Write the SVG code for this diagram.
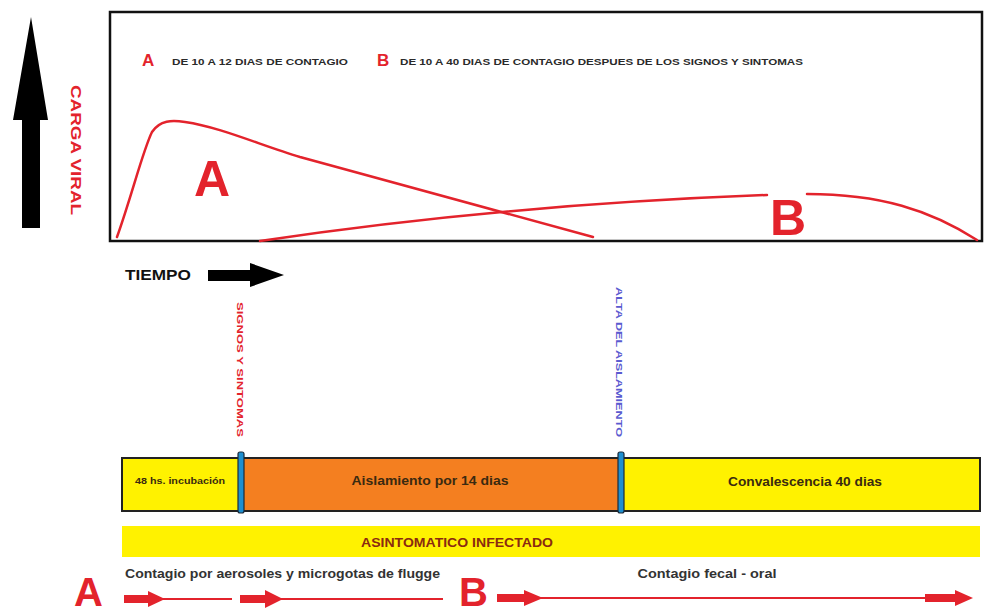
<svg xmlns="http://www.w3.org/2000/svg" width="984" height="615" viewBox="0 0 984 615">
<style>
.hdr{font-family:"Liberation Sans",Arial,sans-serif;font-weight:bold;font-size:9.5px;fill:#2a2a2a}
.red{fill:#e3232c}
.big{font-family:"Liberation Sans",Arial,sans-serif;font-weight:bold;fill:#e3232c}
.lbl{font-family:"Liberation Sans",Arial,sans-serif;font-weight:bold;fill:#3a2a10;text-anchor:middle}
.curve{fill:none;stroke:#e3232c;stroke-width:2.5;stroke-linecap:round}
.rline{stroke:#e3232c;stroke-width:2}
.divider{fill:#1e8fd0;stroke:#1a2a3a;stroke-width:1.2}
</style>
<rect width="984" height="615" fill="#ffffff"/>

<g id="axis-y">
<polygon points="31,17 48,120 40,120 40,228 22,228 22,120 13,120" fill="#000"/>
<text transform="translate(71,85) rotate(90)" style="font-family:'Liberation Sans',Arial,sans-serif;font-size:15px;font-weight:bold" class="red" textLength="130" lengthAdjust="spacingAndGlyphs">CARGA VIRAL</text>
</g>

<g id="chart">
<rect x="110" y="12" width="872" height="229" fill="#fff" stroke="#111" stroke-width="2.5"/>
<text x="142" y="66" style="font-family:'Liberation Sans',Arial,sans-serif;font-size:17px;font-weight:bold" class="red">A</text>
<text x="172" y="65" class="hdr" textLength="176" lengthAdjust="spacingAndGlyphs">DE 10 A 12 DIAS DE CONTAGIO</text>
<text x="377" y="66" style="font-family:'Liberation Sans',Arial,sans-serif;font-size:17px;font-weight:bold" class="red">B</text>
<text x="400" y="65" class="hdr" textLength="403" lengthAdjust="spacingAndGlyphs">DE 10 A 40 DIAS DE CONTAGIO DESPUES DE LOS SIGNOS Y SINTOMAS</text>
<path class="curve" d="M117,237 C132,195 143,150 152,132 C160,120 172,120 185,122 C220,127 260,145 300,157 L593,237"/>
<path class="curve" d="M260,241 Q500,205 767,195"/>
<path class="curve" d="M807,194 C880,194 930,210 977,240"/>
<text x="194" y="196" class="big" font-size="50">A</text>
<text x="770" y="235" class="big" font-size="50">B</text>
</g>

<g id="tiempo">
<text x="125" y="280" style="font-family:'Liberation Sans',Arial,sans-serif;font-weight:bold;font-size:14px" fill="#111" textLength="66" lengthAdjust="spacingAndGlyphs">TIEMPO</text>
<polygon points="208,270 250,270 250,263 284,275 250,287 250,281 208,281" fill="#000"/>
</g>

<g id="signos">
<text transform="translate(237,302) rotate(90)" style="font-family:'Liberation Sans',Arial,sans-serif;font-weight:bold;font-size:9px;fill:#e3232c" textLength="135" lengthAdjust="spacingAndGlyphs">SIGNOS Y SINTOMAS</text>
</g>
<g id="alta">
<text transform="translate(616,287) rotate(90)" style="font-family:'Liberation Sans',Arial,sans-serif;font-weight:bold;font-size:9px;fill:#5a5ad0" textLength="150" lengthAdjust="spacingAndGlyphs">ALTA DEL AISLAMIENTO</text>
</g>

<g id="timeline">
<rect x="122" y="458" width="858" height="53" fill="#fff200" stroke="#222" stroke-width="2"/>
<rect x="241" y="459" width="379" height="51" fill="#f47f20"/>
<rect x="238" y="452" width="6" height="61" rx="2" class="divider"/>
<rect x="618" y="452" width="6" height="61" rx="2" class="divider"/>
<text x="180" y="484" class="lbl" font-size="8.5" textLength="90" lengthAdjust="spacingAndGlyphs">48 hs. incubación</text>
<text x="430" y="485" class="lbl" font-size="12.5" textLength="157" lengthAdjust="spacingAndGlyphs">Aislamiento por 14 dias</text>
<text x="805" y="486" class="lbl" font-size="12.5" textLength="154" lengthAdjust="spacingAndGlyphs">Convalescencia 40 dias</text>
</g>

<g id="asintomatico">
<rect x="122" y="526" width="858" height="31" fill="#fff200"/>
<text x="457" y="547" class="lbl" font-size="12" style="fill:#8b2a10" textLength="192" lengthAdjust="spacingAndGlyphs">ASINTOMATICO INFECTADO</text>
</g>

<g id="contagio">
<text x="125" y="578" style="font-family:'Liberation Sans',Arial,sans-serif;font-weight:bold;font-size:12.5px;fill:#333" textLength="315" lengthAdjust="spacingAndGlyphs">Contagio por aerosoles y microgotas de flugge</text>
<text x="707" y="578" class="lbl" font-size="12.5" style="fill:#333" textLength="139" lengthAdjust="spacingAndGlyphs">Contagio fecal - oral</text>
<text x="74" y="606" class="big" font-size="40">A</text>
<text x="459" y="606" class="big" font-size="40">B</text>
</g>

<g id="connectors">
<line x1="150" y1="599" x2="232" y2="599" class="rline"/>
<polygon points="124,595 148,595 148,591 165,599 148,607 148,603 124,603" fill="#e3232c"/>
<line x1="265" y1="599" x2="443" y2="599" class="rline"/>
<polygon points="240,595 265,595 265,590 283,599 265,608 265,603 240,603" fill="#e3232c"/>
<line x1="525" y1="598" x2="928" y2="598" class="rline"/>
<polygon points="497,594 524,594 524,590 543,598 524,606 524,602 497,602" fill="#e3232c"/>
<polygon points="925,594 955,594 955,590 973,598 955,606 955,602 925,602" fill="#e3232c"/>
</g>
</svg>
